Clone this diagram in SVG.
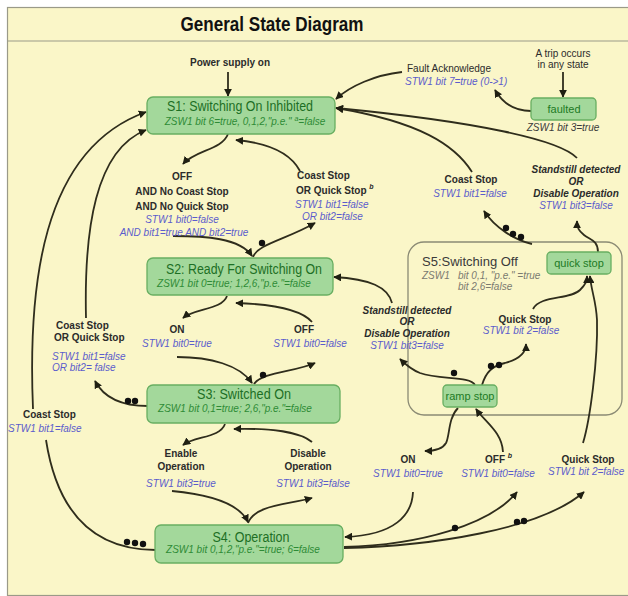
<svg xmlns="http://www.w3.org/2000/svg" width="628" height="596" viewBox="0 0 628 596">
  <style>
    .bg { fill: #faf6c8; }
    .frame { fill: none; stroke: #9a9a88; stroke-width: 1.2; }
    .node rect { fill: #a3d89b; stroke: #68ae61; stroke-width: 1.3; }
    .ttl { font-family: "Liberation Sans", Arial, sans-serif; font-size: 14px; fill: #1d6f25; text-anchor: middle; }
    .sub { font-family: "Liberation Sans", Arial, sans-serif; font-size: 10px; font-style: italic; fill: #2e8b36; text-anchor: middle; }
    .box { font-family: "Liberation Sans", Arial, sans-serif; font-size: 11px; fill: #1d7a25; text-anchor: middle; }
    .lbl { font-family: "Liberation Sans", Arial, sans-serif; font-size: 10px; font-weight: bold; fill: #2b2b2b; }
    .bi { font-style: italic; }
    .txt { font-family: "Liberation Sans", Arial, sans-serif; font-size: 10px; fill: #2b2b2b; }
    .cond { font-family: "Liberation Sans", Arial, sans-serif; font-size: 10px; font-style: italic; fill: #5b5ccc; }
    .gray { font-family: "Liberation Sans", Arial, sans-serif; font-size: 10px; font-style: italic; fill: #7a7a70; }
    .mid { text-anchor: middle; }
    .edges path { fill: none; stroke: #2f2d1c; stroke-width: 1.8; }
    .edges path.arr { marker-end: url(#ah); }
    .dots circle { fill: #111; }
  </style>
  <defs>
    <marker id="ah" viewBox="0 0 10 10" refX="9" refY="5" markerWidth="8" markerHeight="8" markerUnits="userSpaceOnUse" orient="auto">
      <path d="M0,0 L10,5 L0,10 Z" fill="#1f1f12"/>
    </marker>
  </defs>

  <!-- sheet -->
  <rect x="0" y="0" width="628" height="596" fill="#ffffff"/>
  <rect class="bg" x="7" y="7" width="625" height="588"/>
  <rect class="frame" x="7.5" y="7.5" width="625" height="588"/>
  <line x1="7" y1="41" x2="628" y2="41" stroke="#9a9a88" stroke-width="1.2"/>
  <text x="272" y="31" font-family="Liberation Sans, Arial, sans-serif" font-size="20" font-weight="bold" fill="#111" text-anchor="middle" textLength="183" lengthAdjust="spacingAndGlyphs">General State Diagram</text>

  <!-- S5 container -->
  <g id="s5">
    <rect x="408" y="242" width="214" height="173" rx="16" fill="none" stroke="#8a8a74" stroke-width="1.3"/>
    <text x="422" y="266" font-family="Liberation Sans, Arial, sans-serif" font-size="13" fill="#3a3a3a">S5:Switching Off</text>
    <text class="gray" y="279"><tspan x="422">ZSW1</tspan><tspan x="458">bit 0,1, "p.e." =true</tspan></text>
    <text class="gray" x="458" y="290">bit 2,6=false</text>
  </g>

  <!-- connectors -->
  <g class="edges">
    <path class="arr" d="M228,72 V96"/>
    <path class="arr" d="M563,72 V97"/>
    <path class="arr" d="M531,111 C512,111 502,102 495,90"/>
    <path class="arr" d="M402,72 C375,75 350,86 336,99"/>
    <path class="arr" d="M228,134 C222,150 195,150 183,164"/>
    <path class="arr" d="M173,236 C205,236 240,238 252,256"/>
    <path class="arr" d="M253,257 C258,244 285,240 315,223"/>
    <path class="arr" d="M300,171 C290,152 268,143 236,140"/>
    <path class="arr" d="M227,296 C222,310 195,308 183,318"/>
    <path class="arr" d="M177,357 C210,357 240,365 252,383"/>
    <path class="arr" d="M254,384 C262,372 295,372 315,363"/>
    <path class="arr" d="M312,322 C300,308 265,304 236,303"/>
    <path class="arr" d="M225,424 C220,438 195,436 183,445"/>
    <path class="arr" d="M172,491 C215,495 240,505 248,522"/>
    <path class="arr" d="M248,523 C255,505 285,505 312,498"/>
    <path class="arr" d="M312,442 C300,432 270,428 234,429"/>
    <path class="arr" d="M148,406 C125,406 105,400 95,381"/>
    <path class="arr" d="M86,318 C84,230 95,150 146,130"/>
    <path d="M156,550 C110,550 60,530 46,440"/>
    <path class="arr" d="M33,409 C28,290 40,150 146,112"/>
    <path class="arr" d="M475,385 C470,376 440,380 420,373 C410,369 405,364 400,359"/>
    <path class="arr" d="M392,303 C388,287 370,279 334,277"/>
    <path class="arr" d="M482,385 C486,372 492,366 505,363 C520,359 526,352 526,344"/>
    <path class="arr" d="M533,309 C540,295 570,300 580,290 C586,284 587,281 587,276"/>
    <path class="arr" d="M344,548 C430,546 540,530 584,492"/>
    <path class="arr" d="M583,443 C590,420 598,360 597,320 C596,300 591,290 590,276"/>
    <path class="arr" d="M344,547 C420,545 490,525 517,492"/>
    <path class="arr" d="M413,492 C412,515 395,535 345,537"/>
    <path class="arr" d="M458,408 C448,418 450,435 446,443 C442,450 433,451 425,451"/>
    <path class="arr" d="M503,452 C502,432 485,422 476,409"/>
    <path class="arr" d="M598,252 C598,240 590,240 584,235 C579,231 577,228 577,221"/>
    <path class="arr" d="M577,158 C560,140 480,122 336,108"/>
    <path class="arr" d="M532,244 C515,240 495,228 484,211"/>
    <path class="arr" d="M472,172 C455,145 420,122 336,108"/>
  </g>

  <!-- priority dots -->
  <g class="dots">
    <circle cx="262" cy="243" r="3.2"/>
    <circle cx="263" cy="375" r="3.2"/>
    <circle cx="128" cy="401" r="3.2"/>
    <circle cx="135" cy="401" r="3.2"/>
    <circle cx="127" cy="542" r="3.2"/>
    <circle cx="135" cy="543" r="3.2"/>
    <circle cx="143" cy="544" r="3.2"/>
    <circle cx="506" cy="228" r="3.2"/>
    <circle cx="513" cy="234" r="3.2"/>
    <circle cx="521" cy="237" r="3.2"/>
    <circle cx="454" cy="373" r="3.2"/>
    <circle cx="491" cy="366" r="3.2"/>
    <circle cx="499" cy="365" r="3.2"/>
    <circle cx="455" cy="528" r="3.2"/>
    <circle cx="517" cy="522" r="3.2"/>
    <circle cx="524" cy="521" r="3.2"/>
  </g>

  <!-- states -->
  <g id="s1" class="node">
    <rect x="147" y="97" width="188" height="37" rx="6"/>
    <text class="ttl" x="240" y="111" textLength="146" lengthAdjust="spacingAndGlyphs">S1: Switching On Inhibited</text>
    <text class="sub" x="245" y="125">ZSW1 bit 6=true, 0,1,2,"p.e." <tspan font-size="7" dy="-4">a</tspan><tspan dy="4">=false</tspan></text>
  </g>
  <g id="s2" class="node">
    <rect x="147" y="258" width="186" height="37" rx="6"/>
    <text class="ttl" x="244" y="274" textLength="156" lengthAdjust="spacingAndGlyphs">S2: Ready For Switching On</text>
    <text class="sub" x="234" y="287">ZSW1 bit 0=true; 1,2,6,"p.e."=false</text>
  </g>
  <g id="s3" class="node">
    <rect x="147" y="385" width="193" height="38" rx="6"/>
    <text class="ttl" x="244" y="399" textLength="94" lengthAdjust="spacingAndGlyphs">S3: Switched On</text>
    <text class="sub" x="235" y="412">ZSW1 bit 0,1=true; 2,6,"p.e."=false</text>
  </g>
  <g id="s4" class="node">
    <rect x="155" y="525" width="188" height="38" rx="6"/>
    <text class="ttl" x="251" y="542" textLength="77" lengthAdjust="spacingAndGlyphs">S4: Operation</text>
    <text class="sub" x="243" y="553">ZSW1 bit 0,1,2,"p.e."=true; 6=false</text>
  </g>
  <g id="faulted" class="node">
    <rect x="531" y="98" width="65" height="22" rx="4"/>
    <text class="box" x="564" y="113">faulted</text>
  </g>
  <g id="quickstop" class="node">
    <rect x="547" y="252" width="64" height="22" rx="4"/>
    <text class="box" x="579" y="267">quick stop</text>
  </g>
  <g id="rampstop" class="node">
    <rect x="443" y="385" width="54" height="22" rx="4"/>
    <text class="box" x="470" y="400">ramp stop</text>
  </g>

  <!-- transition labels -->
  <g id="labels">
    <text class="lbl mid" x="230" y="66">Power supply on</text>
    <text class="txt mid" x="563" y="57">A trip occurs</text>
    <text class="txt mid" x="563" y="68">in any state</text>
    <text class="gray mid" x="563" y="131" style="fill:#3a3a3a">ZSW1 bit 3=true</text>
    <text class="txt" x="407" y="72">Fault Acknowledge</text>
    <text class="cond" x="405" y="85">STW1 bit 7=true (0-&gt;1)</text>

    <text class="lbl mid" x="182" y="180">OFF</text>
    <text class="lbl mid" x="182" y="195">AND No Coast Stop</text>
    <text class="lbl mid" x="182" y="210">AND No Quick Stop</text>
    <text class="cond mid" x="182" y="223">STW1 bit0=false</text>
    <text class="cond mid" x="184" y="236">AND bit1=true AND bit2=true</text>

    <text class="lbl" x="297" y="179">Coast Stop</text>
    <text class="lbl" x="296" y="194">OR Quick Stop <tspan font-size="7" font-style="italic" dy="-5">b</tspan></text>
    <text class="cond" x="295" y="208">STW1 bit1=false</text>
    <text class="cond" x="302" y="220">OR bit2=false</text>

    <text class="lbl" x="56" y="329">Coast Stop</text>
    <text class="lbl" x="54" y="341">OR Quick Stop</text>
    <text class="cond" x="52" y="360">STW1 bit1=false</text>
    <text class="cond" x="52" y="371">OR bit2= false</text>

    <text class="lbl" x="23" y="418">Coast Stop</text>
    <text class="cond" x="8" y="432">STW1 bit1=false</text>

    <text class="lbl mid" x="177" y="333">ON</text>
    <text class="cond mid" x="177" y="347">STW1 bit0=true</text>
    <text class="lbl mid" x="304" y="333">OFF</text>
    <text class="cond mid" x="310" y="347">STW1 bit0=false</text>

    <text class="lbl mid" x="181" y="457">Enable</text>
    <text class="lbl mid" x="181" y="470">Operation</text>
    <text class="cond mid" x="181" y="487">STW1 bit3=true</text>
    <text class="lbl mid" x="308" y="457">Disable</text>
    <text class="lbl mid" x="308" y="470">Operation</text>
    <text class="cond mid" x="313" y="487">STW1 bit3=false</text>

    <text class="lbl bi mid" x="407" y="314">Standstill detected</text>
    <text class="lbl bi mid" x="407" y="325">OR</text>
    <text class="lbl bi mid" x="407" y="337">Disable Operation</text>
    <text class="cond mid" x="407" y="349">STW1 bit3=false</text>

    <text class="lbl bi mid" x="576" y="173">Standstill detected</text>
    <text class="lbl bi mid" x="576" y="185">OR</text>
    <text class="lbl bi mid" x="576" y="197">Disable Operation</text>
    <text class="cond mid" x="576" y="209">STW1 bit3=false</text>

    <text class="lbl mid" x="471" y="183">Coast Stop</text>
    <text class="cond mid" x="470" y="197">STW1 bit1=false</text>

    <text class="lbl mid" x="525" y="323">Quick Stop</text>
    <text class="cond mid" x="521" y="334">STW1 bit 2=false</text>

    <text class="lbl mid" x="408" y="463">ON</text>
    <text class="cond mid" x="408" y="477">STW1 bit0=true</text>
    <text class="lbl" x="485" y="463">OFF <tspan font-size="7" font-style="italic" dy="-5">b</tspan></text>
    <text class="cond mid" x="498" y="477">STW1 bit0=false</text>
    <text class="lbl mid" x="588" y="463">Quick Stop</text>
    <text class="cond" x="548" y="475">STW1 bit 2=false</text>
  </g>
</svg>
